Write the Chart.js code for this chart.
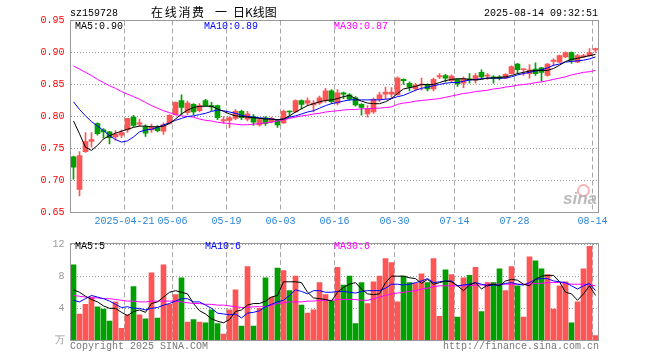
<!DOCTYPE html>
<html><head><meta charset="utf-8">
<script src="https://cdn.jsdelivr.net/npm/chart.js@4.4.1/dist/chart.umd.min.js"></script>
<style>
html,body{margin:0;padding:0;background:#fff;}
#wrap{position:relative;width:660px;height:360px;overflow:hidden;font-family:"Liberation Mono","DejaVu Sans Mono",monospace;font-size:10px;}
canvas{position:absolute;left:0;}
.t{position:absolute;white-space:pre;line-height:12px;font-size:10px;}
.cn{position:absolute;white-space:pre;font-family:"Noto Sans CJK SC",sans-serif;font-size:12px;line-height:12px;color:#000;}
</style></head><body>
<div id="wrap">
<canvas id="main" width="660" height="232" style="top:0"></canvas>
<canvas id="vol" width="660" height="128" style="top:232px"></canvas>
<div class="t" style="left:70px;top:8px;color:#000">sz159728</div>
<div class="cn" style="left:151px;top:6px;letter-spacing:1.7px">在线消费</div>
<div class="cn" style="left:215px;top:6px">一</div>
<div class="cn" style="left:233px;top:6px">日K线图</div>
<div class="t" style="left:484px;top:8px;color:#000">2025-08-14 09:32:51</div>
<div class="t" style="left:75px;top:21px;color:#000">MA5:0.90</div>
<div class="t" style="left:204px;top:21px;color:#0000ff">MA10:0.89</div>
<div class="t" style="left:334px;top:21px;color:#ff00ff">MA30:0.87</div>
<div class="t" style="left:75px;top:241px;color:#000">MA5:5</div>
<div class="t" style="left:205px;top:241px;color:#0000ff">MA10:6</div>
<div class="t" style="left:334px;top:241px;color:#ff00ff">MA30:6</div>
<div class="t" style="left:70px;top:341px;color:#777">Copyright 2025 SINA.COM</div>
<div class="t" style="left:443px;top:341px;color:#777">http://finance.sina.com.cn</div>
<div style="position:absolute;left:577px;top:184px;width:9px;height:9px;border:2px solid rgba(240,150,150,0.7);border-radius:50%"></div>
<div style="position:absolute;left:563px;top:190px;font-family:'Liberation Sans',sans-serif;font-weight:bold;font-style:italic;font-size:17px;line-height:17px;color:rgba(170,170,170,0.8)">sina</div>
</div>
<script>
// ---- data ----
const dates = ['04-08','04-09','04-10','04-11','04-14','04-15','04-16','04-17','04-18','04-21','04-22','04-23','04-24','04-25','04-28','04-29','04-30',
'05-06','05-07','05-08','05-09','05-12','05-13','05-14','05-15','05-16','05-19','05-20','05-21','05-22','05-23','05-26','05-27','05-28','05-29',
'06-03','06-04','06-05','06-06','06-09','06-10','06-11','06-12','06-13','06-16','06-17','06-18','06-19','06-20','06-23','06-24','06-25','06-26','06-27','06-30',
'07-01','07-02','07-03','07-04','07-07','07-08','07-09','07-10','07-11','07-14','07-15','07-16','07-17','07-18','07-21','07-22','07-23','07-24','07-25','07-28','07-29','07-30','07-31',
'08-01','08-04','08-05','08-06','08-07','08-08','08-11','08-12','08-13','08-14'];
const tickDates = ['04-21','05-06','05-19','06-03','06-16','06-30','07-14','07-28','08-14'];
const tickLabels = ['2025-04-21','05-06','05-19','06-03','06-16','06-30','07-14','07-28','08-14'];
const priceTicks = [0.65,0.70,0.75,0.80,0.85,0.90,0.95];
const volTicks = [0,4,8,12];

const open = [0.737,0.686,0.745,0.761,0.789,0.779,0.776,0.768,0.771,0.779,
0.799,0.788,0.784,0.779,0.784,0.777,0.789,0.803,0.825,0.806,
0.819,0.809,0.825,0.817,0.817,0.793,0.794,0.797,0.808,0.796,
0.800,0.787,0.798,0.792,0.794,0.790,0.808,0.807,0.825,0.821,
0.818,0.821,0.825,0.840,0.821,0.837,0.834,0.829,0.819,0.804,
0.807,0.827,0.835,0.835,0.834,0.858,0.852,0.843,0.849,0.849,
0.843,0.862,0.864,0.856,0.858,0.852,0.859,0.857,0.869,0.863,
0.862,0.862,0.860,0.867,0.882,0.873,0.867,0.874,0.876,0.864,
0.886,0.885,0.893,0.900,0.885,0.893,0.895,0.904];
const high = [0.738,0.745,0.775,0.775,0.790,0.781,0.777,0.778,0.779,0.797,
0.802,0.796,0.787,0.788,0.786,0.790,0.803,0.823,0.834,0.824,
0.820,0.820,0.827,0.822,0.818,0.800,0.800,0.811,0.810,0.808,
0.803,0.797,0.800,0.799,0.795,0.810,0.809,0.826,0.826,0.829,
0.825,0.832,0.844,0.842,0.842,0.838,0.836,0.831,0.820,0.817,
0.829,0.838,0.846,0.845,0.862,0.859,0.854,0.852,0.860,0.851,
0.860,0.867,0.866,0.865,0.859,0.862,0.867,0.867,0.873,0.867,
0.864,0.864,0.867,0.879,0.883,0.875,0.881,0.884,0.877,0.883,
0.890,0.896,0.901,0.901,0.897,0.897,0.906,0.907];
const low = [0.702,0.676,0.744,0.752,0.771,0.766,0.757,0.763,0.767,0.775,
0.784,0.785,0.769,0.775,0.776,0.772,0.788,0.802,0.803,0.803,
0.803,0.807,0.816,0.809,0.795,0.789,0.782,0.795,0.795,0.793,
0.786,0.785,0.786,0.790,0.783,0.789,0.800,0.806,0.812,0.817,
0.807,0.819,0.822,0.820,0.818,0.828,0.825,0.816,0.802,0.799,
0.805,0.823,0.827,0.829,0.833,0.850,0.840,0.840,0.841,0.840,
0.840,0.859,0.854,0.853,0.847,0.845,0.852,0.852,0.859,0.858,
0.852,0.857,0.859,0.866,0.867,0.864,0.860,0.864,0.855,0.863,
0.879,0.884,0.892,0.883,0.884,0.892,0.894,0.900];
const close = [0.721,0.739,0.761,0.764,0.773,0.776,0.767,0.773,0.775,0.797,
0.786,0.790,0.774,0.783,0.778,0.787,0.802,0.822,0.814,0.821,
0.807,0.817,0.817,0.815,0.798,0.795,0.798,0.808,0.798,0.804,
0.791,0.795,0.789,0.797,0.787,0.808,0.807,0.825,0.819,0.825,
0.821,0.829,0.840,0.823,0.837,0.835,0.827,0.818,0.814,0.812,
0.827,0.834,0.838,0.838,0.860,0.856,0.846,0.849,0.850,0.843,
0.858,0.864,0.860,0.863,0.851,0.859,0.857,0.864,0.862,0.864,
0.860,0.859,0.866,0.878,0.873,0.874,0.873,0.867,0.869,0.882,
0.888,0.895,0.900,0.888,0.895,0.895,0.900,0.906];
const ma5 = [0.793,0.773,0.752,0.747,0.755,0.765,0.770,0.774,0.777,0.780,
0.783,0.785,0.785,0.784,0.784,0.785,0.789,0.796,0.804,0.810,
0.814,0.816,0.816,0.816,0.812,0.808,0.804,0.801,0.800,0.799,
0.798,0.797,0.796,0.796,0.795,0.796,0.801,0.807,0.812,0.817,
0.820,0.823,0.825,0.826,0.828,0.831,0.833,0.828,0.824,0.821,
0.820,0.820,0.823,0.828,0.836,0.843,0.845,0.847,0.850,0.850,
0.850,0.853,0.856,0.858,0.859,0.859,0.858,0.857,0.858,0.860,
0.860,0.861,0.862,0.864,0.867,0.869,0.871,0.872,0.872,0.872,
0.875,0.880,0.886,0.889,0.891,0.893,0.895,0.897];
const ma10 = [0.823,0.811,0.801,0.792,0.785,0.778,0.770,0.764,0.760,0.762,
0.768,0.776,0.779,0.780,0.783,0.787,0.790,0.794,0.797,0.800,
0.801,0.803,0.805,0.808,0.810,0.809,0.807,0.805,0.802,0.800,
0.799,0.798,0.797,0.796,0.795,0.796,0.799,0.801,0.804,0.807,
0.809,0.813,0.817,0.820,0.822,0.824,0.826,0.826,0.826,0.826,
0.826,0.826,0.827,0.828,0.831,0.833,0.837,0.841,0.844,0.846,
0.848,0.850,0.852,0.853,0.853,0.855,0.857,0.858,0.859,0.860,
0.860,0.860,0.860,0.862,0.865,0.867,0.869,0.871,0.873,0.876,
0.880,0.882,0.885,0.886,0.887,0.888,0.890,0.893];
const ma30 = [0.879,0.874,0.869,0.864,0.858,0.853,0.848,0.844,0.839,0.835,
0.831,0.827,0.822,0.817,0.813,0.809,0.806,0.803,0.801,0.800,
0.799,0.796,0.794,0.793,0.791,0.790,0.789,0.788,0.787,0.787,
0.788,0.789,0.790,0.791,0.793,0.795,0.797,0.799,0.801,0.802,
0.804,0.805,0.807,0.808,0.809,0.810,0.811,0.811,0.812,0.812,
0.813,0.813,0.814,0.815,0.819,0.821,0.822,0.824,0.825,0.826,
0.827,0.828,0.830,0.832,0.834,0.836,0.837,0.839,0.840,0.841,
0.843,0.844,0.846,0.847,0.849,0.850,0.851,0.853,0.854,0.856,
0.858,0.860,0.862,0.865,0.867,0.869,0.870,0.872];
const volume = [9.4,3.3,4.5,5.4,4.2,3.9,2.4,4.8,1.5,3.2,
6.7,3.2,2.7,8.4,2.8,9.4,4.5,5.7,7.8,2.3,
2.6,2.3,2.2,3.8,2.1,0.8,3.8,6.3,1.8,9.2,
1.8,4.0,7.8,5.4,9.0,8.7,6.2,8.0,4.4,3.4,
3.8,7.2,5.7,4.9,9.1,6.9,8.0,2.1,7.2,4.6,
7.3,8.0,10.2,9.7,4.8,8.0,7.2,7.1,8.3,7.2,
10.2,3.0,8.8,8.2,2.9,7.8,8.1,9.1,3.6,7.2,
7.2,8.9,6.2,9.2,6.8,2.9,10.4,9.9,8.9,8.2,
3.9,6.8,7.3,2.2,4.8,8.9,11.7,0.6];
const vma5 = [6.3,6.0,5.5,5.1,4.8,4.3,4.0,4.0,3.5,3.1,
3.6,3.8,3.5,4.6,4.8,5.4,6.0,6.2,6.0,5.8,
4.6,3.7,3.3,2.7,2.4,2.2,2.6,3.6,3.8,4.4,
4.6,4.6,4.9,5.4,5.6,7.3,7.3,7.3,7.2,6.0,
5.3,5.2,5.1,4.9,6.0,6.6,7.0,7.2,6.4,5.8,
5.7,5.8,7.2,8.0,8.0,8.0,7.8,7.7,7.1,7.6,
7.0,7.2,7.4,7.3,6.8,6.2,6.9,7.2,6.4,6.9,
7.0,6.8,7.4,7.6,7.5,7.0,6.8,7.6,8.0,8.1,
8.1,7.3,6.0,5.8,5.0,5.8,6.8,5.6];
const vma10 = [5.0,4.8,5.2,5.6,5.4,5.2,4.9,4.5,4.1,4.2,
4.0,4.0,3.8,4.0,4.1,4.4,4.6,4.9,5.2,5.2,
4.8,4.8,4.4,4.0,3.4,3.3,3.2,3.3,2.8,3.4,
3.5,3.7,4.2,4.5,4.8,5.0,5.6,6.3,6.1,5.8,
6.2,6.2,6.0,6.0,6.1,6.1,6.0,5.9,6.1,6.2,
6.2,6.2,6.5,7.0,7.0,6.9,7.0,7.2,7.4,7.7,
7.2,7.3,7.4,7.4,6.8,6.9,7.0,7.2,7.0,6.8,
6.9,6.9,7.1,7.2,7.0,6.9,7.2,7.6,7.7,7.7,
7.4,7.3,7.2,6.8,6.4,6.8,7.1,6.2];
const vma30 = [5.6,5.5,5.4,5.3,5.3,5.2,5.2,5.1,5.0,4.9,
4.9,4.8,4.8,4.9,4.9,4.9,4.9,4.9,4.8,4.7,
4.6,4.6,4.5,4.5,4.4,4.4,4.3,4.2,4.1,4.1,
4.2,4.2,4.2,4.4,4.6,4.7,4.8,4.8,4.8,4.9,
4.9,5.0,5.0,5.0,5.1,5.1,5.1,5.1,5.0,5.0,
5.2,5.4,5.6,5.8,5.9,6.0,6.1,6.2,6.4,6.5,
6.7,6.8,6.8,6.8,6.8,6.8,6.8,6.9,6.9,7.0,
7.0,7.0,7.0,7.0,7.0,7.0,7.0,7.1,7.1,7.2,
7.2,7.2,7.1,7.0,7.0,7.0,6.9,6.8];

// ---- styling ----
const UP = '#ff5555', DOWN = '#00a000', GRID = '#999999', FRAME = '#999999';
const FONT = {family:'"Liberation Mono","DejaVu Sans Mono",monospace', size:10};
const candleColor = open.map((o,i)=> close[i] >= o ? UP : DOWN);
const tickIdx = tickDates.map(d=>dates.indexOf(d));
const showGrid = new Set(tickIdx);

const framePlugin = {
  id:'frame',
  afterDraw(chart){
    const a = chart.chartArea, c = chart.ctx;
    c.save(); c.strokeStyle = FRAME; c.lineWidth = 1;
    c.strokeRect(Math.round(a.left)-0.5, Math.round(a.top)-0.5, Math.round(a.right)-Math.round(a.left), Math.round(a.bottom)-Math.round(a.top));
    c.restore();
  }
};

function xScale(showLabels){
  return {
    type:'category', offset:true,
    grid:{offset:true, drawTicks:false, lineWidth:1,
      color:ctx=> showGrid.has(ctx.index) ? '#a8a8a8' : 'rgba(0,0,0,0)'},
    border:{display:false, dash:[5,3]},
    ticks:{display:showLabels, autoSkip:false, maxRotation:0, minRotation:0, padding:3, labelOffset:-3,
      color:'#2a86d8', font:FONT,
      callback:(v,i)=>{ const k = tickIdx.indexOf(i); return k>=0 ? tickLabels[k] : ''; }},
    afterFit(s){ s.height = 19.5; }
  };
}
function lineDs(data,color){
  return {type:'line', data, borderColor:color, borderWidth:1, pointRadius:0, tension:0, fill:false};
}

new Chart(document.getElementById('main'), {
  type:'bar',
  data:{labels:dates, datasets:[
    lineDs(ma5,'#000000'), lineDs(ma10,'#0000ff'), lineDs(ma30,'#ff00ff'),
    {data:open.map((o,i)=>[o,close[i]]), backgroundColor:candleColor, barThickness:5, minBarLength:1, grouped:false, borderWidth:0},
    {data:low.map((l,i)=>[l,high[i]]), backgroundColor:candleColor, barThickness:1, grouped:false, borderWidth:0}
  ]},
  options:{
    responsive:false, animation:false, events:[],
    layout:{padding:{top:20.5, right:61.5, left:0, bottom:0}},
    plugins:{legend:{display:false}, tooltip:{enabled:false}},
    scales:{
      x:xScale(true),
      y:{min:0.65, max:0.95,
        afterBuildTicks(s){ s.ticks = priceTicks.map(v=>({value:v})); },
        ticks:{color:'#ff0000', font:FONT, padding:6, callback:v=>Number(v).toFixed(2)},
        grid:{color:GRID, drawTicks:false, lineWidth:1},
        border:{display:false, dash:[1,2]},
        afterFit(s){ s.width = 70.5; }
      }
    }
  },
  plugins:[framePlugin]
});

new Chart(document.getElementById('vol'), {
  type:'bar',
  data:{labels:dates, datasets:[
    lineDs(vma5,'#000000'), lineDs(vma10,'#0000ff'), lineDs(vma30,'#ff00ff'),
    {data:volume, backgroundColor:candleColor, barThickness:5, grouped:false, borderWidth:0}
  ]},
  options:{
    responsive:false, animation:false, events:[],
    layout:{padding:{top:8.5, right:61.5, left:0, bottom:0}},
    plugins:{legend:{display:false}, tooltip:{enabled:false}},
    scales:{
      x:xScale(false),
      y:{min:0, max:12,
        afterBuildTicks(s){ s.ticks = volTicks.map(v=>({value:v})); },
        ticks:{color:'#999999', font:FONT, padding:6, callback:v=> v===0 ? '万' : String(v)},
        grid:{color:GRID, drawTicks:false, lineWidth:1},
        border:{display:false, dash:[1,2]},
        afterFit(s){ s.width = 70.5; }
      }
    }
  },
  plugins:[framePlugin]
});
</script>
</body></html>
